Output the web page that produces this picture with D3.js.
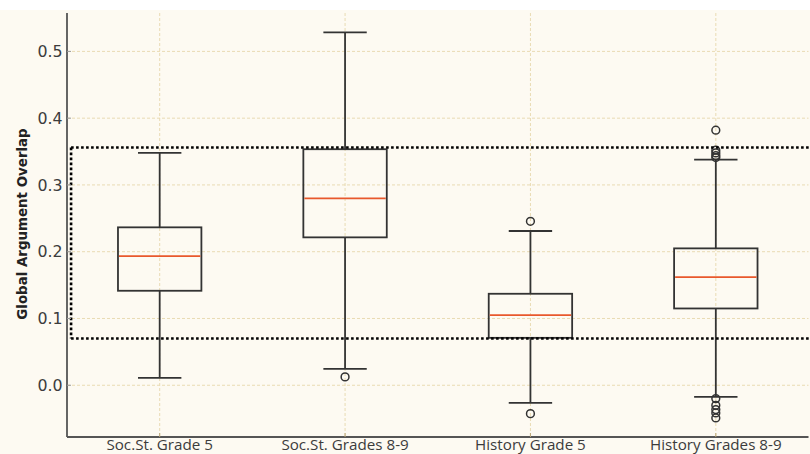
<!DOCTYPE html>
<html>
<head>
<meta charset="utf-8">
<script src="https://cdn.jsdelivr.net/npm/d3@7"></script>
<style>
html,body{margin:0;padding:0;background:#fdfaf2;}
svg{display:block;}
</style>
</head>
<body>
<svg id="chart" width="810" height="454"></svg>
<script>
// ---- data ----
const categories = ["Soc.St. Grade 5", "Soc.St. Grades 8-9", "History Grade 5", "History Grades 8-9"];
const whiskerLow  = [0.011, 0.0245, -0.0265, -0.0175];
const q1          = [0.1415, 0.2215, 0.071, 0.115];
const median      = [0.1935, 0.280, 0.105, 0.162];
const q3          = [0.2365, 0.3535, 0.137, 0.205];
const whiskerHigh = [0.348, 0.5285, 0.231, 0.338];
const outliers    = [
  [],
  [0.0125],
  [0.2455, -0.0425],
  [0.382, 0.352, 0.348, 0.344, 0.341, -0.020, -0.030, -0.0365, -0.0415, -0.049]
];
const yTicks = [0.0, 0.1, 0.2, 0.3, 0.4, 0.5];
const bandLow = 0.07, bandHigh = 0.356;
const yLabel = "Global Argument Overlap";

// ---- layout ----
const W = 810, H = 454;
const mLeft = 67, mRight = 808.5, mTop = 13, mBottom = 437;
const svg = d3.select("#chart");

svg.append("rect").attr("x",0).attr("y",0).attr("width",W).attr("height",H).attr("fill","#fdfaf2");
svg.append("rect").attr("x",0).attr("y",0).attr("width",W).attr("height",10).attr("fill","#ffffff");

const x = d3.scaleLinear().domain([0.5, 4.5]).range([mLeft, mRight]);
const y = d3.scaleLinear().domain([-0.0775, 0.5575]).range([mBottom, mTop]);
const boxW = x(1.45) - x(1);
const capW = x(1.234) - x(1);

// grid
const grid = svg.append("g");
grid.selectAll("line.h").data(yTicks).enter().append("line")
  .attr("x1", mLeft).attr("x2", mRight).attr("y1", d=>y(d)).attr("y2", d=>y(d))
  .attr("stroke","#e9dbb3").attr("stroke-width",1).attr("stroke-dasharray","3,2");
grid.selectAll("line.v").data(categories).enter().append("line")
  .attr("x1",(d,i)=>x(i+1)).attr("x2",(d,i)=>x(i+1)).attr("y1", mTop).attr("y2", mBottom)
  .attr("stroke","#e9dbb3").attr("stroke-width",1).attr("stroke-dasharray","3,2");

// boxes
const g = svg.append("g");
const col = "#333";
const lw = 1.8;
categories.forEach((c,i)=>{
  const cx = x(i+1);
  g.append("line").attr("x1",cx).attr("x2",cx).attr("y1",y(q3[i])).attr("y2",y(whiskerHigh[i]))
    .attr("stroke",col).attr("stroke-width",lw);
  g.append("line").attr("x1",cx).attr("x2",cx).attr("y1",y(q1[i])).attr("y2",y(whiskerLow[i]))
    .attr("stroke",col).attr("stroke-width",lw);
  [whiskerHigh[i], whiskerLow[i]].forEach(v=>{
    g.append("line").attr("x1", cx - capW/2).attr("x2", cx + capW/2)
      .attr("y1",y(v)).attr("y2",y(v)).attr("stroke",col).attr("stroke-width",lw);
  });
  g.append("rect").attr("x",cx-boxW/2).attr("y",y(q3[i]))
    .attr("width",boxW).attr("height",y(q1[i])-y(q3[i]))
    .attr("fill","none").attr("stroke",col).attr("stroke-width",lw);
  g.append("line").attr("x1",cx-boxW/2+1).attr("x2",cx+boxW/2-1)
    .attr("y1",y(median[i])).attr("y2",y(median[i]))
    .attr("stroke","#e8582c").attr("stroke-width",1.7);
  g.selectAll(null).data(outliers[i]).enter().append("circle")
    .attr("cx",cx).attr("cy",d=>y(d)).attr("r",3.9)
    .attr("fill","none").attr("stroke",col).attr("stroke-width",1.5);
});

// dotted reference band
const band = svg.append("g").attr("fill","none").attr("stroke","#000")
  .attr("stroke-width",2.6).attr("stroke-dasharray","2.6,2.4");
band.append("line").attr("x1",x(0.522)).attr("x2",W).attr("y1",y(bandHigh)).attr("y2",y(bandHigh));
band.append("line").attr("x1",x(0.522)).attr("x2",W).attr("y1",y(bandLow)).attr("y2",y(bandLow));
band.append("line").attr("x1",x(0.522)).attr("x2",x(0.522)).attr("y1",y(bandHigh)).attr("y2",y(bandLow));

// spines
svg.append("line").attr("x1",mLeft).attr("x2",mLeft).attr("y1",mTop).attr("y2",mBottom)
  .attr("stroke","#555").attr("stroke-width",1.8);
svg.append("line").attr("x1",mLeft).attr("x2",mRight).attr("y1",mBottom).attr("y2",mBottom)
  .attr("stroke","#555").attr("stroke-width",1.8);

// ticks (inward)
svg.selectAll("line.yt").data(yTicks).enter().append("line")
  .attr("x1",mLeft).attr("x2",mLeft+4).attr("y1",d=>y(d)).attr("y2",d=>y(d))
  .attr("stroke","#999").attr("stroke-width",1);
svg.selectAll("line.xt").data(categories).enter().append("line")
  .attr("x1",(d,i)=>x(i+1)).attr("x2",(d,i)=>x(i+1)).attr("y1",mBottom).attr("y2",mBottom-4)
  .attr("stroke","#bba77a").attr("stroke-width",1);

// tick labels
svg.selectAll("text.yl").data(yTicks).enter().append("text")
  .attr("x", mLeft-4.5).attr("y", d=>y(d)).attr("dy","0.36em")
  .attr("text-anchor","end").attr("font-family","DejaVu Sans").attr("font-size",15.8)
  .attr("fill","#3c3c3c").text(d=>d3.format(".1f")(d));
svg.selectAll("text.xl").data(categories).enter().append("text")
  .attr("x",(d,i)=>x(i+1)).attr("y",449.5)
  .attr("text-anchor","middle").attr("font-family","Open Sans").attr("font-size",15.2)
  .attr("fill","#3c3c3c").text(d=>d);

// y label
svg.append("text").attr("transform","translate(27,224) rotate(-90)")
  .attr("text-anchor","middle").attr("font-family","DejaVu Sans").attr("font-weight","bold")
  .attr("font-size",13.4).attr("fill","#222").text(yLabel);
</script>
</body>
</html>
